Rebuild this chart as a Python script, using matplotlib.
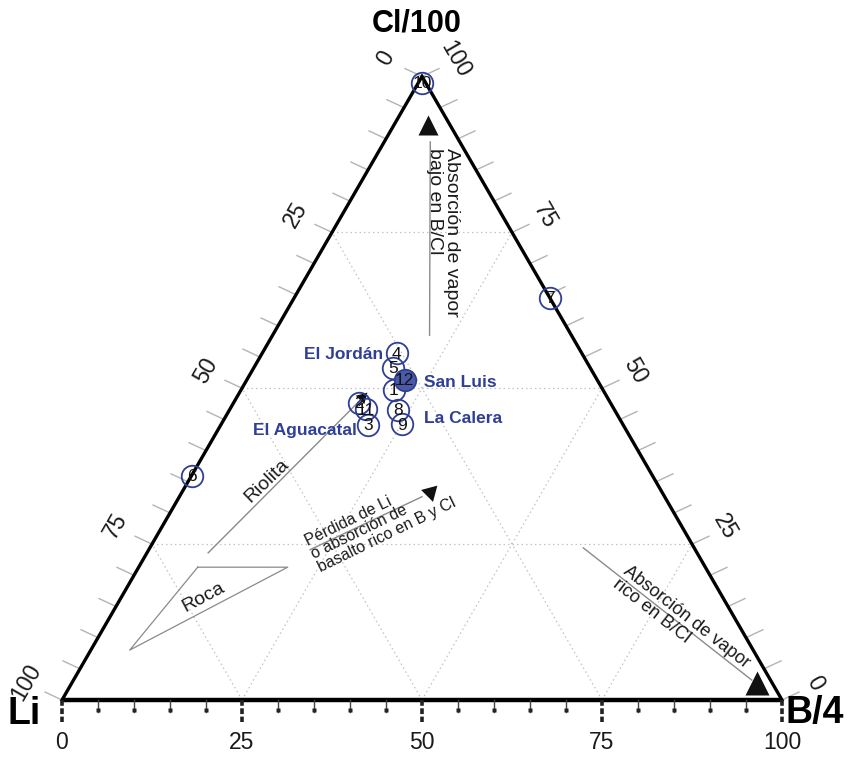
import numpy as np
import matplotlib
matplotlib.use("Agg")
import matplotlib.pyplot as plt

# ---- sample compositions (Li, B/4, Cl/100 as percentages) ----
sample_ids = ["1", "2", "3", "4", "5", "6", "7", "8", "9", "10", "11", "12"]
li_pct = [29.1, 35.0, 35.4, 25.7, 27.4, 64.0, 0.0, 30.1, 30.7, 0.5, 34.5, 26.7]
b4_pct = [21.2, 17.4, 20.5, 18.7, 19.4, 0.0, 35.5, 23.4, 25.1, 0.5, 18.9, 21.9]
cl_pct = [49.7, 47.6, 44.1, 55.6, 53.2, 36.0, 64.5, 46.5, 44.2, 99.0, 46.6, 51.4]

# labelled localities: (sample id, text, offset in points, alignment)
site_labels = [
    ("4", "El Jordán", (-10, -1), "right"),
    ("12", "San Luis", (14, -2), "left"),
    ("8", "La Calera", (19, -6), "left"),
    ("3", "El Aguacatal", (-8, -4), "right"),
]

axis_ticks = [0, 25, 50, 75, 100]
minor_ticks = list(range(0, 101, 5))

SQ = np.sqrt(3) / 2
BLUE = "#2f3f95"
SANS = ["Liberation Sans", "DejaVu Sans"]


def tern(b, cl):
    """(B, Cl) in percent -> cartesian position inside the triangle."""
    b = np.asarray(b, float)
    cl = np.asarray(cl, float)
    return b + cl / 2.0, cl * SQ


fig = plt.figure(figsize=(8.49, 7.58), dpi=100)
ax = fig.add_axes([0, 0, 1, 1])
s = 7.2  # pixels per unit
ax.set_xlim(-62 / s, (849 - 62) / s)
ax.set_ylim((700 - 758) / s, 700 / s)
ax.axis("off")

# ---- dotted grid ----
for v in (25, 50, 75):
    for (b0, c0), (b1, c1) in [
        ((0, v), (100 - v, v)),          # constant Cl
        ((v, 0), (v, 100 - v)),          # constant B
        ((100 - v, 0), (0, 100 - v)),    # constant Li
    ]:
        x, y = tern([b0, b1], [c0, c1])
        ax.plot(x, y, ls=(0, (1.2, 2.4)), color="#c2c2c2", lw=0.9, zorder=1)

# ---- triangle frame ----
x, y = tern([0, 0, 100], [0, 100, 0])
ax.plot(x, y, color="black", lw=2.4, solid_joinstyle="miter", zorder=3)
x, y = tern([0, 100], [0, 0])
ax.plot(x, y, color="black", lw=3.2, solid_capstyle="butt", zorder=3)

# ---- edge ticks (left: Li, right: Cl) ----
tlen = 2.6
ang = np.deg2rad(25)
for v in minor_ticks:
    # left edge, Li = v  -> B = 0, Cl = 100 - v
    x0, y0 = tern(0, 100 - v)
    ax.plot([x0, x0 - tlen * np.cos(ang)], [y0, y0 + tlen * np.sin(ang)],
            color="#b4b4b4", lw=1.0, zorder=2)
    # right edge, Cl = v  -> Li = 0, B = 100 - v
    x0, y0 = tern(100 - v, v)
    ax.plot([x0, x0 + tlen * np.cos(ang)], [y0, y0 + tlen * np.sin(ang)],
            color="#b4b4b4", lw=1.0, zorder=2)

# ---- bottom ticks (B/4) ----
for v in minor_ticks:
    x0, y0 = tern(v, 0)
    if v in axis_ticks:
        ax.plot([x0, x0], [y0, y0 - 3.0], color="#222222", lw=2.6,
                ls=(0, (1.6, 0.7)), solid_capstyle="butt", zorder=3)
    else:
        ax.plot([x0, x0], [y0, y0 - 1.6], color="#444444", lw=1.0, zorder=3)
        ax.plot([x0], [y0 - 1.4], marker="s", ms=3.2, color="#222222",
                mec="none", zorder=3)

# ---- tick labels ----
for v in axis_ticks:
    x0, y0 = tern(v, 0)
    ax.text(x0, y0 - 5.9, str(v), ha="center", va="center", fontsize=16.5,
            family=SANS, color="#1a1a1a")
    x0, y0 = tern(0, 100 - v)
    ax.text(x0 - 36 / s, y0 + 18 / s, str(v), ha="center", va="center",
            fontsize=16.5, rotation=60, family=SANS, color="#1a1a1a")
    x0, y0 = tern(100 - v, v)
    ax.text(x0 + 33 / s, y0 + 17 / s, str(v), ha="center", va="center",
            fontsize=16.5, rotation=-60, family=SANS, color="#1a1a1a")

# ---- axis titles ----
xt, yt = tern(0, 100)
ax.text(xt - 0.7, yt + 7.3, "Cl/100", ha="center", va="center", fontsize=22,
        fontweight="bold", family=SANS)
xl, yl = tern(0, 0)
ax.text(xl - 5.2, yl - 2.0, "Li", ha="center", va="center", fontsize=27,
        fontweight="bold", family=SANS)
xr, yr = tern(100, 0)
ax.text(xr + 4.6, yr - 1.8, "B/4", ha="center", va="center", fontsize=27,
        fontweight="bold", family=SANS)

# ---- process arrows and fields ----
LINE = "#8a8a8a"


def arrow(p0, p1, tip, marker, ms):
    x, y = tern([p0[0], p1[0]], [p0[1], p1[1]])
    ax.plot(x, y, color=LINE, lw=1.0, zorder=2)
    tx, ty = tern(*tip)
    ax.plot([tx], [ty], marker=marker, ms=ms, color="#111111", mec="none",
            zorder=4)


arrow((21.8, 58.5), (6.4, 89.5), (4.7, 92.2), "^", 15)
arrow((60.2, 24.4), (94.2, 3.2), (95.2, 2.7), "^", 17)
arrow((22.4, 24.1), (33.7, 32.6), (34.4, 33.4), (3, 0, 195), 14)
arrow((8.5, 23.6), (17.5, 48.4), (17.3, 48.6), (3, 0, -45), 10)

roca_b = [8.2, 20.7, 5.4, 8.2]
roca_cl = [21.3, 21.3, 8.0, 21.3]
x, y = tern(roca_b, roca_cl)
ax.plot(x, y, color=LINE, lw=0.9, zorder=2)

TXT = dict(family=SANS, color="#1a1a1a", zorder=5)
ax.text(52.9, 76.7, "Absorción de vapor\nbajo en B/Cl", rotation=-90,
        ha="center", va="top", multialignment="left", fontsize=14,
        linespacing=0.95, **TXT)
ax.text(85.97, 10.55, "Absorción de vapor\nrico en B/Cl", rotation=-38,
        rotation_mode="anchor", ha="center", va="center",
        multialignment="left", fontsize=13, linespacing=1.0, **TXT)
ax.text(44.2, 24.75, "Pérdida de Li\no absorción de\nbasalto rico en B y Cl",
        rotation=26, rotation_mode="anchor", ha="center", va="center",
        multialignment="left", fontsize=11.5, linespacing=1.0, **TXT)
ax.text(28.5, 30.4, "Riolita", rotation=44, rotation_mode="anchor",
        ha="center", va="center", fontsize=14, **TXT)
ax.text(19.6, 14.3, "Roca", rotation=28, rotation_mode="anchor",
        ha="center", va="center", fontsize=14, **TXT)

# ---- samples ----
li = np.array(li_pct)
b4 = np.array(b4_pct)
cl = np.array(cl_pct)
tot = li + b4 + cl
px, py = tern(100 * b4 / tot, 100 * cl / tot)
pos = {}
for sid, x0, y0 in zip(sample_ids, px, py):
    pos[sid] = (x0, y0)
    fc = "#4a5aa8" if sid == "12" else "none"
    ax.plot([x0], [y0], marker="o", ms=15.5, mfc=fc, mec=BLUE, mew=1.3,
            zorder=6)
    ax.text(x0, y0 - 0.1, sid, ha="center", va="center", fontsize=12.5,
            family=SANS, color="#111111", zorder=7)

for sid, txt, off, ha in site_labels:
    ax.annotate(txt, xy=pos[sid], xytext=off, textcoords="offset points",
                ha=ha, va="center", fontsize=12.5, fontweight="bold",
                family=SANS, color=BLUE, zorder=7)

fig.savefig("out.png", dpi=100)
